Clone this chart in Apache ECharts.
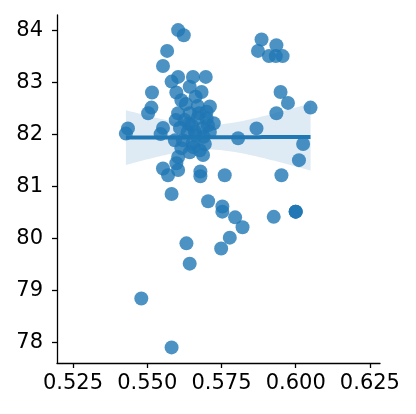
<!DOCTYPE html>
<html>
<head>
<meta charset="utf-8">
<script src="https://cdn.jsdelivr.net/npm/echarts@6/dist/echarts.min.js"></script>
<style>
  html, body { margin: 0; padding: 0; background: #fff; }
  #chart { width: 416px; height: 414px; }
</style>
</head>
<body>
<div id="chart"></div>
<script>
// values
const xVals = [
  0.5435, 0.5428, 0.5514, 0.5503, 0.5516, 0.5553, 0.5545, 0.5553, 0.5567, 0.5604,
  0.5623, 0.5582, 0.5604, 0.5654, 0.5697, 0.5598, 0.5643, 0.5683, 0.5663, 0.5615,
  0.5711, 0.5700, 0.5604, 0.5643, 0.5724, 0.5806, 0.5694, 0.5688, 0.5615, 0.5604,
  0.5553, 0.5570, 0.5598, 0.5604, 0.5679, 0.5679, 0.5761, 0.5582, 0.5705, 0.5753,
  0.5753, 0.5796, 0.5821, 0.5632, 0.5778, 0.5749, 0.5643, 0.5480, 0.5582, 0.5885,
  0.5873, 0.5935, 0.5910, 0.5933, 0.5956, 0.5949, 0.5974, 0.5935, 0.6050, 0.5868,
  0.6025, 0.6011, 0.5952, 0.5926, 0.6000, 0.6000, 0.6000,
  0.5626, 0.5650, 0.5670, 0.5636, 0.5663, 0.5687, 0.5610, 0.5620, 0.5653, 0.5704,
  0.5677, 0.5630, 0.5670, 0.5596, 0.5643, 0.5711, 0.5593,
  0.5660, 0.5690, 0.5640, 0.5675, 0.5655, 0.5700
];
const yVals = [
  82.11, 82.01, 82.51, 82.40, 82.80, 82.12, 82.00, 83.31, 83.60, 84.00,
  83.90, 83.01, 83.10, 83.10, 83.10, 82.80, 82.91, 82.81, 82.72, 82.65,
  82.53, 82.43, 82.40, 82.40, 82.21, 81.92, 81.81, 81.60, 81.73, 81.56,
  81.34, 81.21, 81.44, 81.31, 81.28, 81.19, 81.21, 80.85, 80.71, 80.61,
  80.51, 80.40, 80.21, 79.90, 80.01, 79.80, 79.51, 78.84, 77.90, 83.82,
  83.60, 83.71, 83.50, 83.50, 83.50, 82.81, 82.60, 82.40, 82.51, 82.11,
  81.81, 81.50, 81.21, 80.41, 80.51, 80.51, 80.51,
  82.27, 82.17, 82.31, 82.04, 81.98, 82.12, 82.12, 81.88, 81.83, 82.17,
  81.69, 82.58, 82.54, 82.27, 81.65, 82.04, 81.88,
  82.05, 81.95, 82.20, 82.40, 81.75, 82.30
];
const xTicks = [0.525, 0.55, 0.575, 0.6, 0.625];
const yTicks = [78, 79, 80, 81, 82, 83, 84];

const blue = "#1f77b4";

// linear fit + 95% band (robust sandwich error, close to a bootstrap)
const n = xVals.length;
const mx = xVals.reduce((a, b) => a + b, 0) / n;
const my = yVals.reduce((a, b) => a + b, 0) / n;
let sxx = 0, sxy = 0;
for (let i = 0; i < n; i++) {
  sxx += (xVals[i] - mx) ** 2;
  sxy += (xVals[i] - mx) * (yVals[i] - my);
}
const slope = sxy / sxx;
const icept = my - slope * mx;
let m00 = 0, m01 = 0, m11 = 0;
for (let i = 0; i < n; i++) {
  const d = xVals[i] - mx;
  const e2 = (yVals[i] - (icept + slope * xVals[i])) ** 2;
  m00 += e2; m01 += e2 * d; m11 += e2 * d * d;
}
const adj = n / (n - 2);
const xLo = Math.min(...xVals), xHi = Math.max(...xVals);
const fitLine = [], upper = [], lower = [];
for (let k = 0; k <= 100; k++) {
  const x = xLo + (xHi - xLo) * k / 100;
  const d = x - mx;
  const y = icept + slope * x;
  const v = adj * (m00 / (n * n) + 2 * d * m01 / (n * sxx) + d * d * m11 / (sxx * sxx));
  const h = 1.96 * Math.sqrt(v);
  fitLine.push([x, y]);
  upper.push([x, y + h]);
  lower.push([x, y - h]);
}

const font = { fontFamily: "DejaVu Sans", fontSize: 21, color: "#000" };

let myChart = echarts.init(document.getElementById("chart"));
myChart.setOption({
  animation: false,
  grid: { left: 57, right: 36, top: 15, bottom: 51 },
  xAxis: {
    type: "value",
    min: 0.5196,
    max: 0.6284,
    splitLine: { show: false },
    axisLine: { lineStyle: { color: "#000", width: 1.3 } },
    axisTick: { customValues: xTicks, length: 5, lineStyle: { color: "#000", width: 1.3 } },
    axisLabel: { ...font, margin: 10, customValues: xTicks, formatter: v => v.toFixed(3) },
  },
  yAxis: {
    type: "value",
    min: 77.6,
    max: 84.29,
    splitLine: { show: false },
    axisLine: { show: true, lineStyle: { color: "#000", width: 1.3 } },
    axisTick: { show: true, customValues: yTicks, length: 5, lineStyle: { color: "#000", width: 1.3 } },
    axisLabel: { ...font, margin: 14, customValues: yTicks, formatter: v => String(v) },
  },
  series: [
    {
      type: "scatter",
      data: xVals.map((x, i) => [x, yVals[i]]),
      symbolSize: 14,
      itemStyle: { color: blue, opacity: 0.8 },
      z: 2,
    },
    {
      type: "custom",
      data: [0],
      z: 3,
      renderItem: function (params, api) {
        const pts = upper.map(p => api.coord(p))
          .concat(lower.slice().reverse().map(p => api.coord(p)));
        return {
          type: "polygon",
          shape: { points: pts },
          style: { fill: "rgba(31,119,180,0.15)", stroke: "none" },
        };
      },
    },
    {
      type: "line",
      data: fitLine,
      showSymbol: false,
      lineStyle: { color: blue, width: 4 },
      z: 4,
    },
  ],
});
</script>
</body>
</html>
